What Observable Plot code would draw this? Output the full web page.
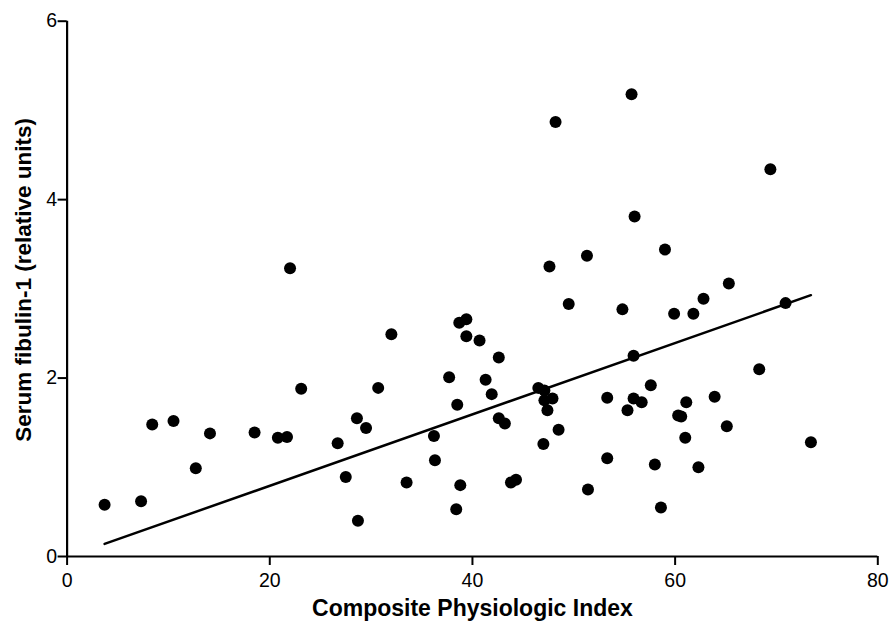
<!DOCTYPE html>
<html>
<head>
<meta charset="utf-8">
<script src="https://cdn.jsdelivr.net/npm/d3@7"></script>
<script src="https://cdn.jsdelivr.net/npm/@observablehq/plot@0.6"></script>
<style>
  html, body { margin: 0; padding: 0; background: #fff; }
  #chart { width: 891px; height: 625px; }
  #chart svg g[aria-label*="axis"] path,
  #chart svg g[aria-label*="axis"] line { stroke-width: 2px; stroke: #000; }
  #chart svg g[aria-label*="axis"] text { font-size: 19.5px; fill: #000; }
</style>
</head>
<body>
<div id="chart"></div>
<script>
// Composite Physiologic Index (x) for each subject
const cpi = [
  3.7, 7.3, 8.4, 10.5, 12.7, 14.1, 18.5, 20.8, 21.7, 22.0,
  23.1, 26.7, 27.5, 28.6, 28.7, 29.5, 30.7, 32.0, 33.5, 36.2,
  36.3, 37.7, 38.4, 38.5, 38.7, 38.8, 39.4, 39.4, 40.7, 41.3,
  41.9, 42.6, 42.6, 43.2, 43.8, 44.3, 46.5, 47.0, 47.1, 47.1,
  47.4, 47.9, 47.6, 48.2, 48.5, 49.5, 51.3, 51.4, 53.3, 53.3,
  54.8, 55.3, 55.7, 56.0, 55.9, 55.9, 56.7, 57.6, 58.0, 58.6,
  59.0, 59.9, 60.3, 60.6, 61.0, 61.1, 61.8, 62.3, 62.8, 63.9,
  65.1, 65.3, 68.3, 69.4, 70.9, 73.4
];
// Serum fibulin-1 (relative units) for each subject
const fibulin = [
  0.58, 0.62, 1.48, 1.52, 0.99, 1.38, 1.39, 1.33, 1.34, 3.23,
  1.88, 1.27, 0.89, 1.55, 0.40, 1.44, 1.89, 2.49, 0.83, 1.35,
  1.08, 2.01, 0.53, 1.70, 2.62, 0.80, 2.66, 2.47, 2.42, 1.98,
  1.82, 2.23, 1.55, 1.49, 0.83, 0.86, 1.89, 1.26, 1.86, 1.75,
  1.64, 1.77, 3.25, 4.87, 1.42, 2.83, 3.37, 0.75, 1.78, 1.10,
  2.77, 1.64, 5.18, 3.81, 2.25, 1.77, 1.73, 1.92, 1.03, 0.55,
  3.44, 2.72, 1.58, 1.57, 1.33, 1.73, 2.72, 1.00, 2.89, 1.79,
  1.46, 3.06, 2.10, 4.34, 2.84, 1.28
];
// Fitted line shown in the figure (as drawn): y = fitIntercept + fitSlope * x
const fitSlope = 0.0400;
const fitIntercept = -0.007;

const xTicks = [0, 20, 40, 60, 80];
const yTicks = [0, 2, 4, 6];
const xTitle = "Composite Physiologic Index";
const yTitle = "Serum fibulin-1 (relative units)";

const data = cpi.map((x, i) => ({x, y: fibulin[i]}));
const fitLine = d3.extent(cpi).map(x => ({x, y: fitIntercept + fitSlope * x}));

const chart = Plot.plot({
  width: 891,
  height: 625,
  marginLeft: 66.6,
  marginRight: 13.7,
  marginTop: 20.7,
  marginBottom: 69,
  style: {
    fontFamily: "'Liberation Sans', Arial, Helvetica, sans-serif",
    fontSize: "19.5px",
    background: "#ffffff",
    color: "#000000",
    overflow: "visible"
  },
  x: {domain: [0, 80]},
  y: {domain: [0, 6]},
  marks: [
    Plot.axisX(xTicks, {tickSize: 9, tickPadding: 8, fontSize: 19.5, strokeWidth: 2, tickFormat: d => String(d), label: null, stroke: "black", fill: "black"}),
    Plot.axisY(yTicks, {tickSize: 9, tickPadding: 1, fontSize: 19.5, strokeWidth: 2, tickFormat: d => String(d), label: null, stroke: "black", fill: "black"}),
    Plot.ruleY([0], {stroke: "black", strokeWidth: 2.2}),
    Plot.ruleX([0], {stroke: "black", strokeWidth: 2.2}),
    Plot.line(fitLine, {x: "x", y: "y", stroke: "black", strokeWidth: 2.5}),
    Plot.dot(data, {x: "x", y: "y", r: 6, fill: "black", stroke: null}),
    Plot.text([xTitle], {frameAnchor: "bottom", text: d => d, dy: 43, lineAnchor: "top", textAnchor: "middle", fontSize: 23, fontWeight: "bold", fill: "black"}),
    Plot.text([yTitle], {frameAnchor: "left", text: d => d, rotate: -90, dx: -43.5, dy: -9, lineAnchor: "middle", textAnchor: "middle", fontSize: 22.5, fontWeight: "bold", fill: "black"})
  ]
});
document.getElementById("chart").appendChild(chart);
</script>
</body>
</html>
